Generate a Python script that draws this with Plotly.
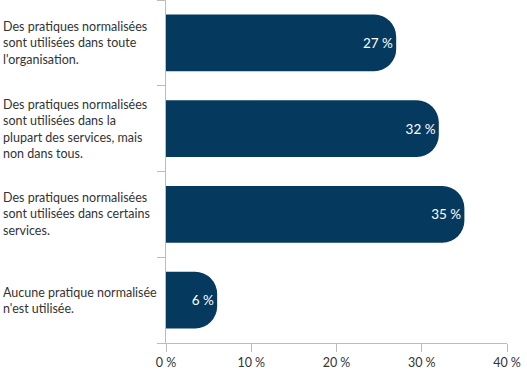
import plotly.graph_objects as go

categories = [
    "Des pratiques normalisées<br>sont utilisées dans toute<br>l'organisation.",
    "Des pratiques normalisées<br>sont utilisées dans la<br>plupart des services, mais<br>non dans tous.",
    "Des pratiques normalisées<br>sont utilisées dans certains<br>services.",
    "Aucune pratique normalisée<br>n'est utilisée.",
]
values = [27, 32, 35, 6]
tick_vals = [0, 10, 20, 30, 40]
tick_text = ["0 %", "10 %", "20 %", "30 %", "40 %"]

BAR = "#053a5e"
TEXT = "#333333"
AXIS = "#bcbcbc"
FONT = "Lato, 'Open Sans', sans-serif"

ids = list(range(len(categories)))
boundaries = [i - 0.5 for i in range(len(categories) + 1)]

fig = go.Figure(
    go.Bar(
        x=values,
        y=ids,
        orientation="h",
        marker=dict(color=BAR, cornerradius=22, line=dict(width=0)),
        width=0.66,
        text=[f"{v} %" for v in values],
        textposition="inside",
        insidetextanchor="end",
        textfont=dict(color="white", size=13.5, family=FONT),
        hoverinfo="skip",
    )
)

L, R, T, B = 166, 20, 0, 29
W, H = 527, 372
plot_w = W - L - R

for i, c in enumerate(categories):
    fig.add_annotation(
        x=-(L - 1) / plot_w, xref="paper", xanchor="left",
        y=i, yref="y", yanchor="middle",
        text=c, align="left", showarrow=False,
        font=dict(size=12.5, color=TEXT, family=FONT),
    )

fig.update_layout(
    width=W, height=H,
    margin=dict(l=L, r=R, t=T, b=B),
    paper_bgcolor="white", plot_bgcolor="white",
    showlegend=False,
    font=dict(family=FONT, color=TEXT, size=12.5),
    xaxis=dict(
        range=[0, 40], tickvals=tick_vals, ticktext=tick_text,
        showgrid=False, zeroline=False, automargin=False,
        showline=True, linecolor=AXIS, linewidth=1,
        ticks="outside", ticklen=8, tickcolor=AXIS,
        tickfont=dict(size=12.5, color=TEXT, family=FONT),
    ),
    yaxis=dict(
        range=[len(categories) - 0.5, -0.5],
        tickvals=boundaries, automargin=False,
        showgrid=False, zeroline=False,
        showline=True, linecolor=AXIS, linewidth=1,
        ticks="outside", ticklen=8, tickcolor=AXIS,
        showticklabels=False,
    ),
)

fig.write_html(
    "out.html",
    config={"displayModeBar": False},
    post_script="document.body.style.margin='0';document.body.style.overflow='hidden';",
)
